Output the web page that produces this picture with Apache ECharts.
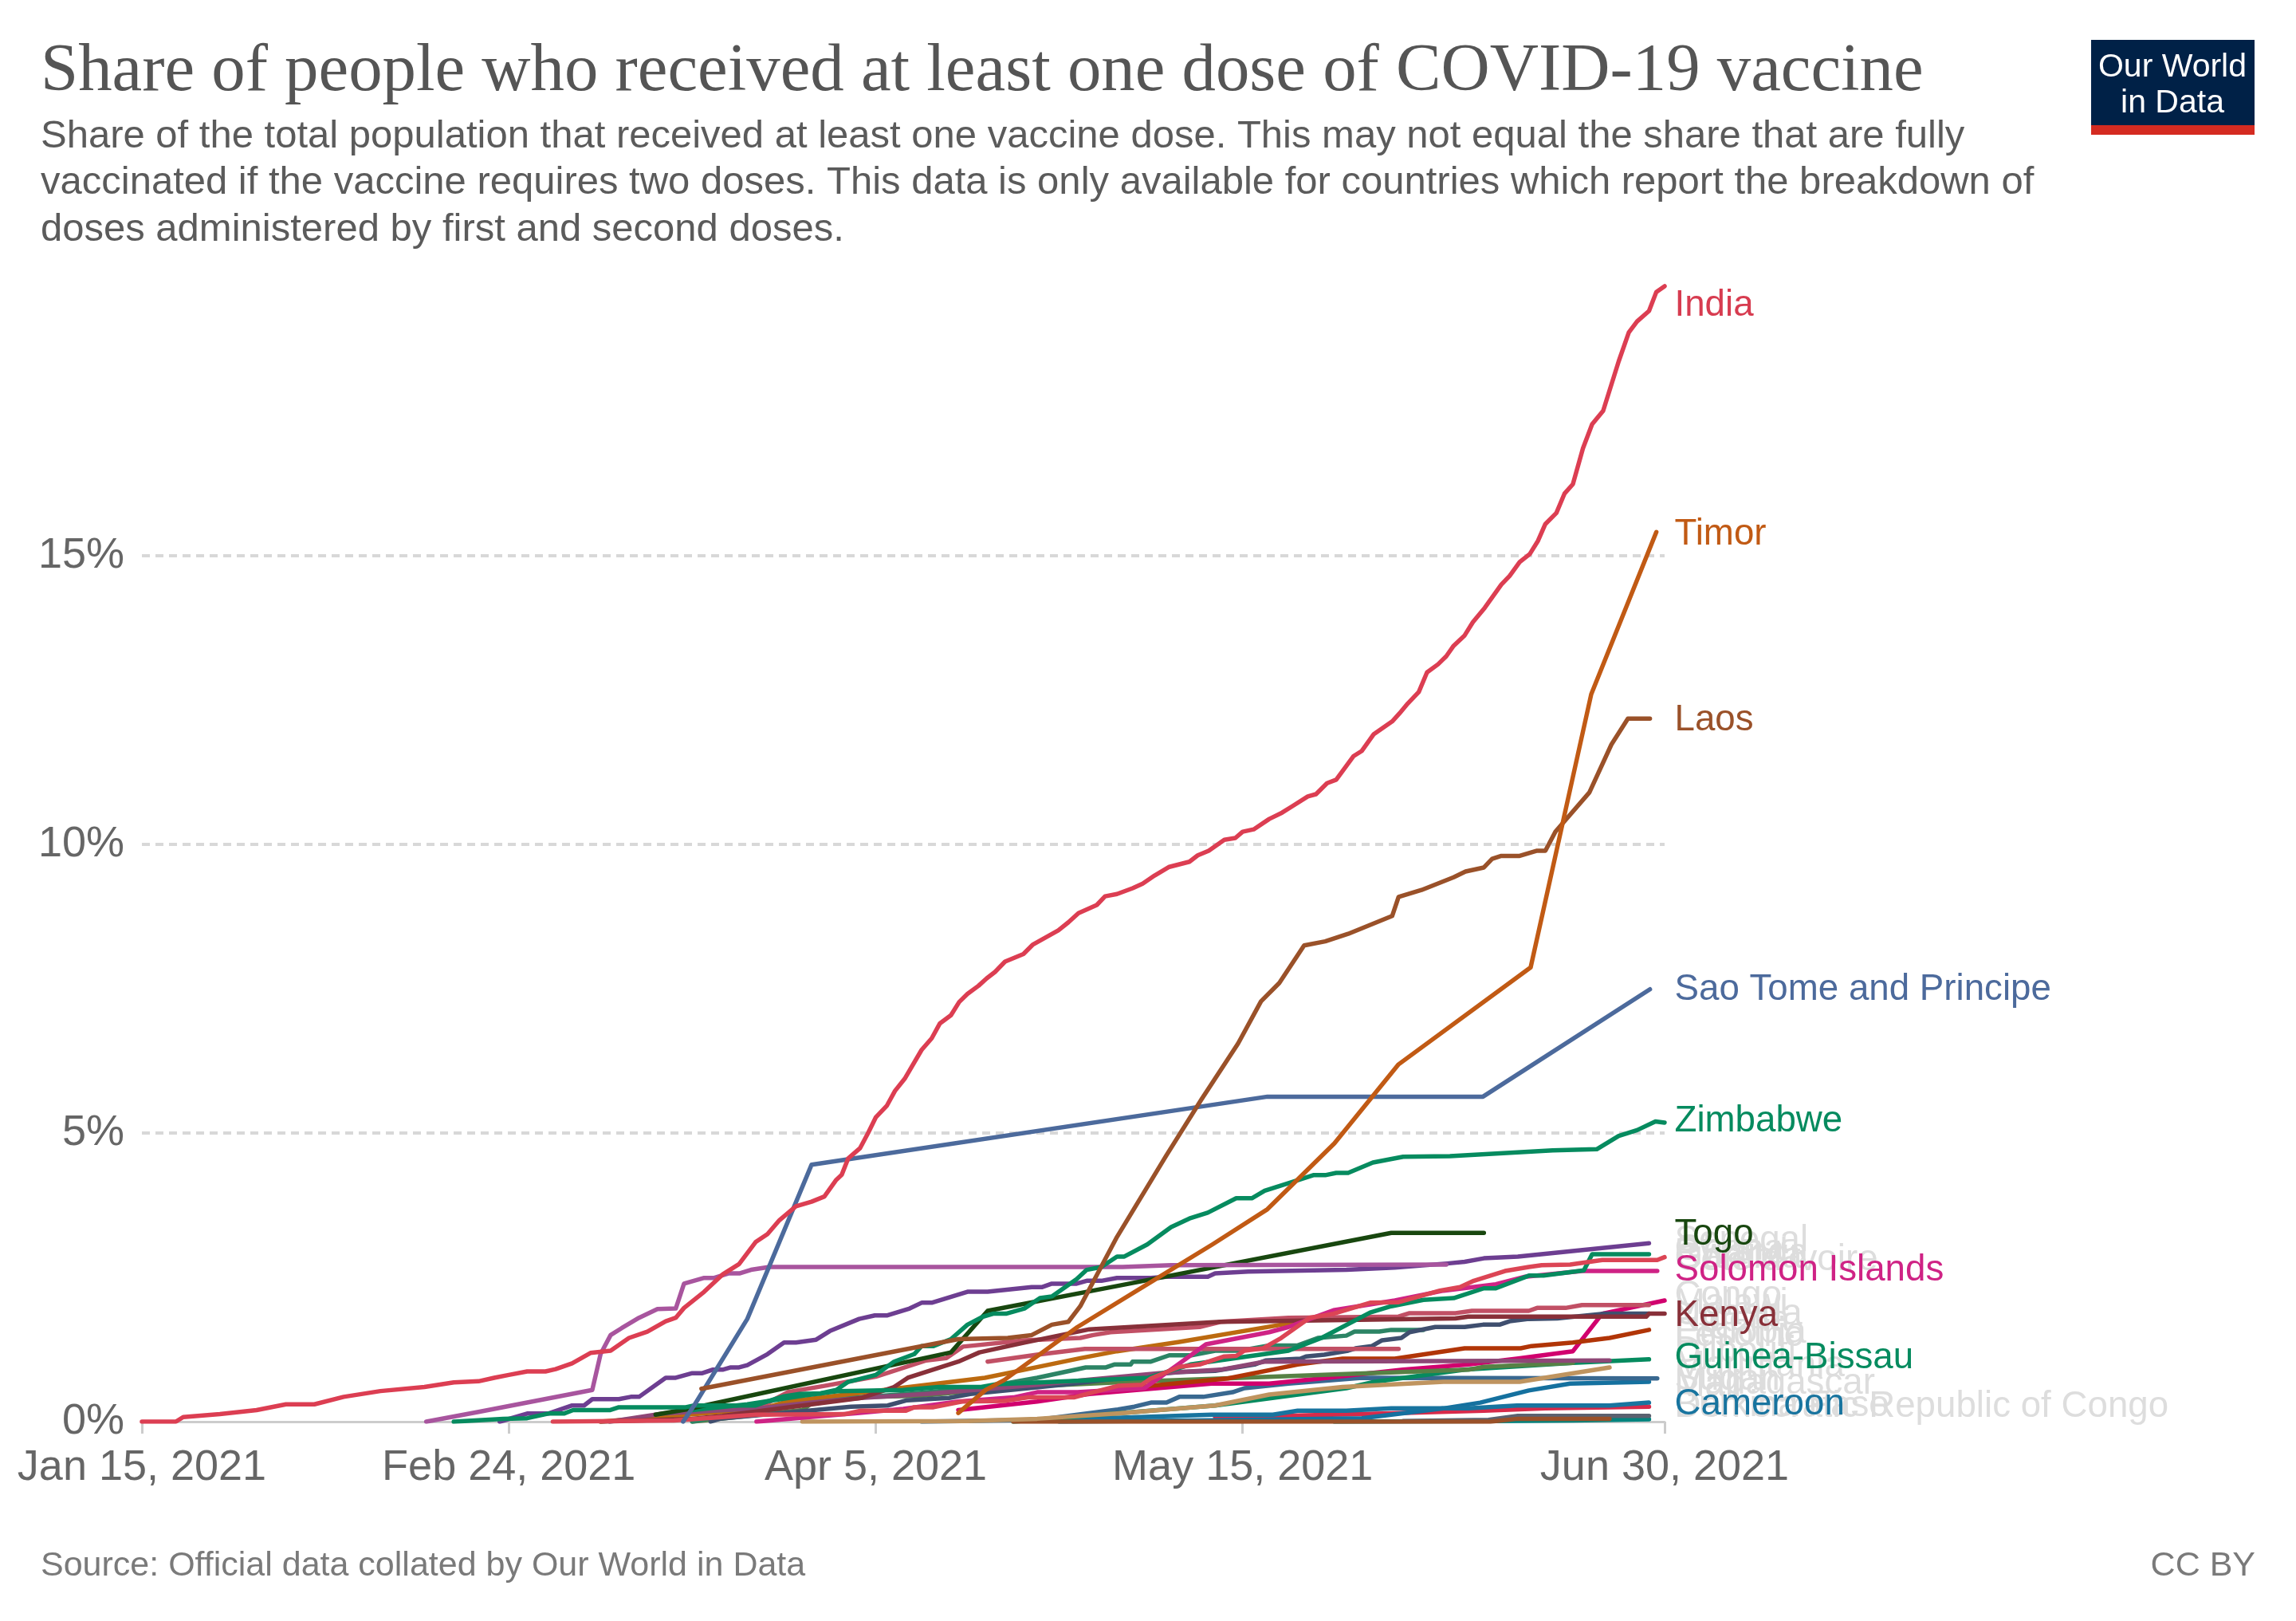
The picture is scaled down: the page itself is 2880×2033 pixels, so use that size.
<!DOCTYPE html>
<html>
<head>
<meta charset="utf-8">
<title>Share of people who received at least one dose of COVID-19 vaccine</title>
<style>
  html, body { margin: 0; padding: 0; background: #fff; }
  #grafico { width: 2880px; height: 2033px; }
</style>
<script src="https://cdn.jsdelivr.net/npm/echarts@6/dist/echarts.min.js"></script>
</head>
<body>
<div id="grafico"></div>
<script>
// Eje X en dias desde Jan 15, 2021
const tickDays = [0, 40, 80, 120, 166];
const tickLabels = ['Jan 15, 2021', 'Feb 24, 2021', 'Apr 5, 2021', 'May 15, 2021', 'Jun 30, 2021'];

// Series: pares [dia, % de poblacion]
const india = [[0,0],[3.7,0],[4.5,.08],[8.5,.13],[12.5,.2],[15.7,.3],[18.8,.3],[22,.43],[26,.53],[30.8,.6],[34,.68],[36.7,.7],[38.4,.76],[40,.81],[42,.87],[44,.87],[45.1,.91],[46.9,1.01],[48.9,1.19],[51.1,1.23],[53.1,1.45],[55.1,1.56],[57.1,1.74],[58.2,1.8],[59.1,1.97],[61.3,2.25],[63.3,2.55],[65.1,2.73],[66.9,3.11],[68.2,3.25],[69.5,3.49],[71.3,3.73],[73,3.81],[74.4,3.9],[75.7,4.19],[76.3,4.28],[77,4.56],[78.3,4.74],[79.2,5.01],[80,5.27],[81.2,5.47],[82.1,5.73],[83.2,5.95],[85,6.44],[86.1,6.64],[87,6.9],[88.2,7.04],[89.1,7.27],[90,7.41],[91.2,7.55],[92.1,7.68],[93,7.79],[94.1,7.97],[96.1,8.1],[97.1,8.26],[99.9,8.51],[101,8.65],[102.1,8.81],[104.1,8.95],[105,9.1],[106.3,9.14],[108,9.24],[109.1,9.32],[110.4,9.46],[112,9.61],[114.2,9.7],[115.1,9.81],[116.3,9.89],[118,10.08],[119.2,10.11],[120,10.22],[121.2,10.26],[122.9,10.44],[124.3,10.55],[125.4,10.66],[127.1,10.83],[128,10.87],[129.2,11.06],[130.2,11.12],[132.1,11.53],[133,11.62],[134.3,11.91],[136.3,12.13],[137.1,12.27],[138,12.44],[139.2,12.64],[140.1,12.98],[141.3,13.12],[142.2,13.26],[143,13.44],[144.2,13.62],[145.1,13.85],[146.4,14.1],[148.2,14.5],[149.1,14.65],[150.2,14.89],[151.3,15.03],[152.2,15.26],[153,15.55],[154.2,15.74],[155.1,16.08],[156,16.24],[157.1,16.86],[158.1,17.28],[159.3,17.51],[161,18.37],[162.1,18.87],[163,19.06],[164.3,19.24],[165.1,19.57],[166,19.67]];
const timor = [[89,.15],[92,.55],[94,.72],[102,1.64],[110,2.42],[116.7,3.07],[122.7,3.68],[130,4.82],[137,6.19],[151.4,7.87],[158,12.6],[165.1,15.41]];
const laos = [[61,.57],[89,1.43],[94.4,1.45],[97,1.5],[99.2,1.68],[101,1.73],[102.3,2],[106.3,3.2],[111.6,4.59],[115.5,5.58],[119.5,6.55],[122,7.28],[124,7.6],[126.7,8.25],[129,8.32],[131.5,8.45],[136.3,8.76],[137,9.09],[139.5,9.21],[143,9.43],[144.3,9.53],[146.3,9.6],[147.2,9.75],[148.2,9.8],[150.2,9.8],[152.1,9.89],[153,9.89],[154.1,10.22],[157.8,10.9],[160.2,11.73],[162,12.18],[164.4,12.18]];
const saoTome = [[59,0],[60.2,.28],[66,1.78],[73,4.45],[122.7,5.63],[146.2,5.63],[164.4,7.49]];
const zimbabwe = [[34,0],[39.4,.05],[42,.06],[44.3,.14],[46,.14],[47,.2],[51,.2],[52,.25],[59.3,.25],[60.2,.28],[66.9,.28],[68.6,.37],[70,.44],[71.7,.48],[74,.49],[75.7,.55],[77,.69],[80,.81],[82,1.04],[84.2,1.17],[85,1.31],[86.3,1.31],[88.2,1.43],[90,1.68],[91.7,1.82],[92.8,1.87],[94.2,1.87],[96.2,1.96],[97.9,2.14],[99.2,2.17],[101.9,2.47],[103,2.63],[104.6,2.68],[106.3,2.86],[107.1,2.86],[109.6,3.07],[112.2,3.37],[114.2,3.52],[116.2,3.62],[119.3,3.87],[121,3.87],[122.4,4],[125,4.13],[127.7,4.27],[129,4.27],[130.2,4.31],[131.5,4.31],[134.2,4.49],[135.9,4.54],[137.5,4.59],[142.6,4.6],[153.8,4.7],[158.6,4.72],[161,4.95],[163,5.05],[165,5.2],[166,5.18]];
const togo = [[56,.12],[59.3,.21],[88.2,1.2],[92.2,1.92],[106.3,2.35],[136.2,3.27],[146.3,3.27]];
const senegal = [[39,0],[42,.14],[44.3,.14],[46.9,.28],[48.2,.28],[49.1,.39],[52,.39],[53.3,.43],[54.2,.43],[57.1,.76],[58.2,.76],[60,.84],[61.1,.84],[62.2,.9],[63.3,.9],[64.2,.94],[65.1,.94],[66,.98],[68.2,1.17],[70,1.37],[71.3,1.37],[73.5,1.42],[75,1.57],[78.2,1.78],[79.9,1.84],[81.2,1.84],[83.7,1.96],[85,2.06],[86.1,2.06],[90,2.25],[92.2,2.25],[97,2.33],[98.1,2.33],[99.2,2.39],[101.9,2.39],[103,2.44],[104.6,2.44],[106.3,2.49],[110,2.49],[111.7,2.51],[116.2,2.51],[117,2.57],[120.6,2.6],[131.3,2.63],[136.6,2.67],[142.3,2.74],[144.2,2.77],[146.3,2.83],[150,2.86],[164.3,3.09]];
const rwanda = [[31,0],[36.7,.17],[49.1,.55],[50,1.17],[51.1,1.5],[52.3,1.62],[54.2,1.8],[56.2,1.95],[58.2,1.96],[59.1,2.39],[61.3,2.49],[62.4,2.49],[64,2.57],[65.2,2.57],[66.4,2.63],[68.4,2.68],[106.9,2.68],[112.2,2.71],[142.2,2.72]];
const solomonIslands = [[67,0],[72,.07],[78,.15],[83,.22],[89,.35],[95,.42],[97.6,.51],[102,.51],[109.3,.58],[112.6,.95],[116,1.34],[122.9,1.55],[125,1.64],[127.7,1.8],[129.9,1.93],[136.6,2.1],[141.9,2.27],[147.6,2.38],[150.8,2.51],[157,2.61],[165.2,2.61]];
const coteDivoire = [[44.8,0],[58,.02],[67,.12],[76.6,.13],[78.4,.19],[83.3,.19],[84.2,.25],[86.3,.25],[89.5,.35],[94,.36],[96.6,.42],[101.6,.42],[103.7,.51],[106.4,.62],[109,.64],[110,.75],[113.1,.95],[115.3,.99],[118,1.13],[119.3,1.14],[120.2,1.23],[122.2,1.27],[124.2,1.45],[127.3,1.8],[129.9,1.87],[133.9,2.06],[137,2.07],[141.5,2.27],[143.7,2.33],[145.2,2.44],[148.6,2.61],[151.2,2.68],[152.6,2.71],[155.7,2.72],[159.2,2.8],[165.2,2.8],[166,2.85]];
const gambia = [[60,.2],[66,.3],[72,.45],[76,.53],[83,.55],[86.9,.6],[91.5,.6],[93.2,.65],[109.7,.76],[114.3,.99],[125,1.23],[128.6,1.45],[133.9,1.89],[136.2,2],[139.7,2.11],[143,2.14],[146.3,2.31],[147.6,2.31],[151.2,2.53],[152.8,2.53],[157.2,2.62],[158.1,2.9],[164.3,2.9]];
const kenya = [[50,0],[60,.05],[63.3,.1],[78.4,.41],[82,.6],[83.5,.76],[89,1.04],[91.3,1.2],[96.2,1.37],[103.3,1.6],[117.6,1.73],[143.2,1.79],[144.6,1.82],[164,1.82],[164.3,1.87],[166,1.87]];
const congo = [[65.5,.14],[67.7,.28],[70.4,.51],[74.4,.62],[80,.78],[85.5,1.06],[87.7,1.1],[89.5,1.3],[96.2,1.41],[102.3,1.45],[103.7,1.5],[105.6,1.55],[115.3,1.64],[117.6,1.73],[125,1.8],[137,1.82],[138.2,1.88],[143.2,1.88],[145,1.92],[151.2,1.92],[152.1,1.97],[155.2,1.97],[157,2.02],[164.3,2.02]];
const ethiopia = [[92.2,1.04],[97.6,1.16],[102.8,1.26],[137,1.26]];
const nigeria = [[50,0],[58,.1],[67.7,.23],[70.4,.35],[80.4,.54],[91.9,.76],[96.2,.9],[102.3,1.1],[106.3,1.22],[113.1,1.38],[124.2,1.68],[125.5,1.7]];
const malawi = [[60,0],[67,.2],[75,.38],[85,.5],[92,.6],[97.6,.76],[102.9,.94],[105.1,.94],[106,.99],[107.8,.99],[108,1.04],[110,1.04],[112,1.15],[114.4,1.15],[117,1.23],[119.7,1.23],[122.9,1.32],[126,1.32],[128.2,1.45],[131.3,1.49],[132.2,1.56],[134.9,1.56],[136.2,1.59],[139.7,1.59]];
const uganda = [[62,0],[63,.05],[77.3,.26],[81.3,.28],[83.4,.37],[88,.41],[90.3,.48],[92.3,.51],[101,.65],[109.7,.81],[113.2,.86],[117,.88],[121.3,.99],[122.5,1.06],[126.3,1.09],[126.9,1.13],[128.9,1.16],[131.5,1.23],[132.3,1.27],[134.1,1.31],[135.2,1.41],[137.3,1.45],[138.2,1.55],[141,1.64],[144.2,1.64],[146.2,1.68],[148,1.68],[149.1,1.74],[151.2,1.78],[154.3,1.79],[159.3,1.87],[164.3,1.87]];
const lesotho = [[105,.55],[110,.62],[118.4,.75],[126,.99],[130.9,1.09],[136.6,1.09],[144.2,1.27],[150.3,1.27],[151.5,1.31],[156,1.37],[160,1.45],[164.3,1.59]];
const ghana = [[89,.2],[97.6,.35],[103.3,.48],[116.6,.66],[122.9,.66],[128.6,.75],[137.5,.9],[144.6,.99],[149.9,1.09],[156,1.22],[159.2,1.87],[166,2.1]];
const djibouti = [[51,0],[56.7,.14],[67.3,.23],[73,.33],[78.4,.41],[85.5,.48],[97.6,.64],[103.3,.73],[110.9,.84],[117.6,.9],[122.4,1.04],[160,1.06]];
const mauritania = [[60,0],[72,.2],[73.8,.41],[85,.45],[95,.6],[102,.65],[107.7,.69],[144.6,.9],[146.3,.95],[156,1.02]];
const guineaBissau = [[95,0],[117,.28],[131.3,.58],[134.4,.69],[144.2,.9],[156,1.02],[164.3,1.08]];
const madagascar = [[72,0],[90,.01],[97.6,.05],[106.3,.14],[117,.28],[122.9,.47],[130.9,.6],[141.9,.69],[150.2,.69],[160,.94]];
const sudan = [[85,0],[97.6,.03],[106.4,.21],[108.2,.26],[110,.33],[111.7,.33],[113.1,.43],[115.7,.43],[118.9,.51],[120.2,.58],[125,.66],[133,.76],[165.2,.75]];
const mali = [[100,0],[115,.02],[133,.06],[141.9,.23],[145.9,.33],[151.2,.54],[155.7,.66],[164.3,.69]];
const cameroon = [[97.6,.02],[116.6,.12],[123.3,.12],[126,.19],[131.3,.19],[136.2,.23],[144.6,.23],[149.9,.28],[160,.28],[164.3,.33]];
const burkinaFaso = [[117,.08],[124.2,.1],[135.3,.14],[146.3,.19],[153,.23],[164.3,.26]];
const niger = [[137.5,.01],[146.8,.03],[150,.1],[164.3,.1]];
const chad = [[130,0],[147,.01],[156,.02],[164.3,.04]];
const drCongo = [[95,0],[147,0],[150,.05],[160,.05]];

// Orden de dibujo: lo ultimo queda arriba
const seriesNames = ['Chad', 'Niger', 'Burkina Faso', 'Mali', 'Cameroon', 'Sudan', 'Guinea-Bissau', 'Democratic Republic of Congo', 'Madagascar', 'Ghana', 'Mauritania', 'Lesotho', 'Malawi', 'Uganda', 'Nigeria', 'Ethiopia', 'Congo', 'Djibouti', 'Kenya', 'Solomon Islands', 'Gambia', 'Cote d\'Ivoire', 'Senegal', 'Togo', 'Rwanda', 'Zimbabwe', 'Sao Tome and Principe', 'Laos', 'Timor', 'India'];
const seriesValues = [chad, niger, burkinaFaso, mali, cameroon, sudan, guineaBissau, drCongo, madagascar, ghana, mauritania, lesotho, malawi, uganda, nigeria, ethiopia, congo, djibouti, kenya, solomonIslands, gambia, coteDivoire, senegal, togo, rwanda, zimbabwe, saoTome, laos, timor, india];
const seriesColors = ['#00847e', '#5b6270', '#d72a4a', '#15719f', '#18749f', '#396890', '#068b5f', '#9a5129', '#bf945f', '#d1006e', '#578145', '#b13507', '#2c8465', '#3f4f6f', '#bc6a10', '#c15065', '#c15065', '#8e4776', '#883039', '#cf2385', '#068b5f', '#dc4555', '#6d3e91', '#18470f', '#a8559e', '#068b5f', '#4c6a9c', '#9a5129', '#c15a14', '#dc3e52'];

// Etiquetas al final de las lineas (las grises van primero, quedan debajo)
const labelNames = ['Senegal', 'Ghana', 'Rwanda', 'Gambia', 'Cote d\'Ivoire', 'Congo', 'Malawi', 'Uganda', 'Nigeria', 'Ethiopia', 'Lesotho', 'Djibouti', 'Mauritania', 'Sudan', 'Madagascar', 'Mali', 'Burkina Faso', 'Democratic Republic of Congo', 'India', 'Timor', 'Laos', 'Sao Tome and Principe', 'Zimbabwe', 'Togo', 'Solomon Islands', 'Kenya', 'Guinea-Bissau', 'Cameroon'];
const labelLevels = [3.16, 3.0, 2.93, 2.87, 2.82, 2.2, 2.07, 1.89, 1.78, 1.57, 1.52, 1.24, .99, .76, .69, .65, .3, .28, 19.36, 15.4, 12.18, 7.51, 5.23, 3.27, 2.65, 1.86, 1.13, .33];
const labelColors = {India: '#d73c50', Timor: '#c15a14', Laos: '#9a5129', 'Sao Tome and Principe': '#4c6a9c', Zimbabwe: '#068b5f', Togo: '#18470f', 'Solomon Islands': '#cf2385', Kenya: '#883039', 'Guinea-Bissau': '#068b5f', Cameroon: '#18749f'};

const titleText = 'Share of people who received at least one dose of COVID-19 vaccine';
const subtitleText = 'Share of the total population that received at least one vaccine dose. This may not equal the share that are fully\nvaccinated if the vaccine requires two doses. This data is only available for countries which report the breakdown of\ndoses administered by first and second doses.';
const sourceText = 'Source: Official data collated by Our World in Data';

const FUENTE = '"Liberation Sans", Arial, sans-serif';

document.addEventListener('DOMContentLoaded', () => {
    const grafico = echarts.init(document.getElementById('grafico'));

    const lineas = seriesNames.map((nombre, i) => ({
        name: nombre,
        type: 'line',
        data: seriesValues[i],
        showSymbol: false,
        symbol: 'none',
        silent: true,
        lineStyle: { color: seriesColors[i], width: 5.5, cap: 'round', join: 'round' }
    }));

    const etiquetas = {
        name: 'etiquetas',
        type: 'scatter',
        symbolSize: 1,
        silent: true,
        clip: false,
        z: 5,
        itemStyle: { color: 'rgba(0,0,0,0)', opacity: 1 },
        data: labelNames.map((nombre, i) => ({
            value: [166, labelLevels[i]],
            name: nombre,
            label: {
                show: true,
                position: 'right',
                distance: 12,
                offset: [0, 2],
                opacity: 1,
                formatter: '{b}',
                fontFamily: FUENTE,
                fontSize: 45.7,
                color: labelColors[nombre] || '#dddddd'
            }
        }))
    };

    grafico.setOption({
        animation: false,
        backgroundColor: '#fff',
        title: [
            { text: titleText, left: 46, top: 43, textStyle: { fontFamily: '"Liberation Serif", serif', fontWeight: 'normal', fontSize: 84.8, color: '#555555' } },
            { text: subtitleText, left: 46, top: 137, textStyle: { fontFamily: FUENTE, fontWeight: 'normal', fontSize: 49, lineHeight: 58.5, color: '#5b5b5b' } },
            { text: sourceText, left: 46, top: 1938, textStyle: { fontFamily: FUENTE, fontWeight: 'normal', fontSize: 43, color: '#7a7a7a' } },
            { text: 'CC BY', right: 46, top: 1938, textStyle: { fontFamily: FUENTE, fontWeight: 'normal', fontSize: 43, color: '#7a7a7a' } }
        ],
        grid: { left: 178, top: 335, width: 1910, height: 1448, containLabel: false },
        xAxis: {
            type: 'value',
            min: 0,
            max: 166,
            splitLine: { show: false },
            axisLine: { show: true, lineStyle: { color: '#cccccc', width: 3 } },
            axisTick: { show: true, length: 15, customValues: tickDays, lineStyle: { color: '#cccccc', width: 3 } },
            axisLabel: {
                customValues: tickDays,
                margin: 31,
                fontFamily: FUENTE,
                fontSize: 54,
                color: '#666666',
                formatter: valor => tickLabels[tickDays.indexOf(valor)]
            }
        },
        yAxis: {
            type: 'value',
            min: 0,
            max: 20,
            interval: 5,
            axisLine: { show: false },
            axisTick: { show: false },
            splitLine: {
                show: true,
                showMinLine: false,
                showMaxLine: false,
                lineStyle: { color: '#d8d8d8', width: 4, type: [10, 7] }
            },
            axisLabel: {
                margin: 22,
                showMaxLabel: false,
                fontFamily: FUENTE,
                fontSize: 54,
                color: '#666666',
                formatter: '{value}%'
            }
        },
        graphic: [
            { type: 'rect', shape: { x: 2623, y: 50, width: 205, height: 107 }, style: { fill: '#002147' } },
            { type: 'rect', shape: { x: 2623, y: 157, width: 205, height: 12 }, style: { fill: '#d42b21' } },
            { type: 'text', style: { x: 2725, y: 85, text: 'Our World', fill: '#ffffff', font: '41px "Liberation Sans"', textAlign: 'center', textVerticalAlign: 'middle' } },
            { type: 'text', style: { x: 2725, y: 130, text: 'in Data', fill: '#ffffff', font: '41px "Liberation Sans"', textAlign: 'center', textVerticalAlign: 'middle' } }
        ],
        series: [...lineas, etiquetas]
    });
});
</script>
</body>
</html>
